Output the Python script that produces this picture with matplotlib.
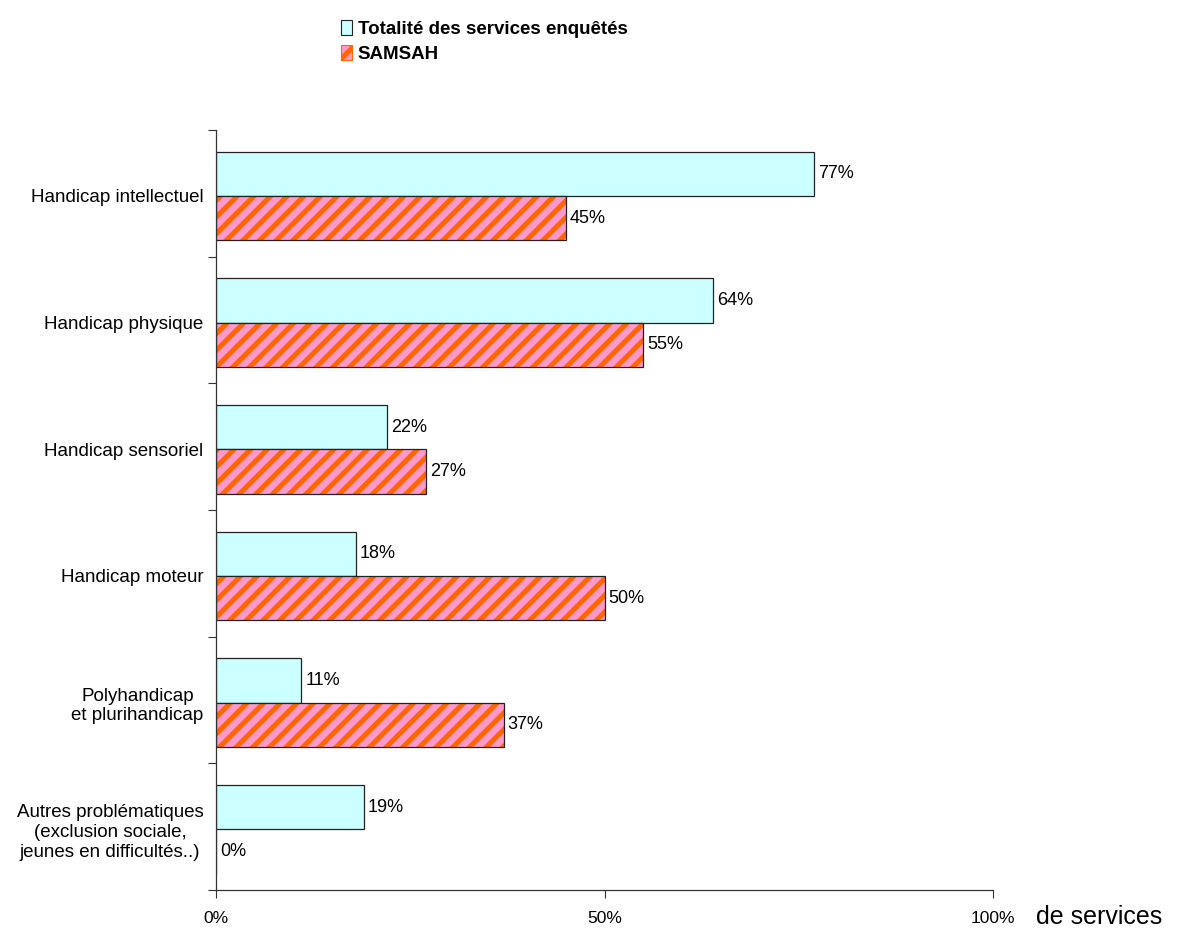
import numpy as np
import matplotlib
matplotlib.use("Agg")
import matplotlib.pyplot as plt
from matplotlib.patches import Patch

plt.rcParams['font.family'] = ['Liberation Sans', 'DejaVu Sans']
plt.rcParams['hatch.linewidth'] = 3.6

categories = ["Handicap intellectuel", "Handicap physique", "Handicap sensoriel",
              "Handicap moteur", "Polyhandicap\net plurihandicap",
              "Autres problématiques\n(exclusion sociale,\njeunes en difficultés..)"]
totalite = [77, 64, 22, 18, 11, 19]
samsah = [45, 55, 27, 50, 37, 0]
series_names = ["Totalité des services enquêtés", "SAMSAH"]
xticks = [0, 50, 100]
xtick_labels = ["0%", "50%", "100%"]

cyan = "#CCFFFF"
pink = "#FF99CC"
orange = "#FF6600"

fig = plt.figure(figsize=(11.83, 9.42), dpi=100)
ax = fig.add_axes([0.1826, 0.0552, 0.6568, 0.8068])

n = len(categories)
centers = n - np.arange(n) - 0.52
h = 0.35

ax.barh(centers + h / 2, totalite, height=h, color=cyan, edgecolor="#222222", linewidth=0.9)
# hatched bars: stripes first, then the black outline on top
ax.barh(centers - h / 2, samsah, height=h, color=pink, edgecolor=orange, linewidth=0,
        hatch="//")
ax.barh(centers - h / 2, samsah, height=h, color="none", edgecolor="#222222", linewidth=0.9)

for c, v in zip(centers, totalite):
    ax.text(v + 0.5, c + h / 2, f"{v}%", va="center", ha="left", fontsize=13)
for c, v in zip(centers, samsah):
    ax.text(v + 0.5, c - h / 2, f"{v}%", va="center", ha="left", fontsize=13)

ax.set_xlim(0, 100)
ax.set_ylim(0, n)
ax.set_xticks(xticks)
ax.set_xticklabels(xtick_labels, fontsize=12.5)
ax.set_yticks(np.arange(n + 1))
ax.set_yticklabels([])
ax.set_yticks(centers, minor=True)
ax.set_yticklabels(categories, minor=True, fontsize=13.5, multialignment="center")
ax.tick_params(axis="y", which="minor", length=0, pad=9)
ax.tick_params(axis="y", which="major", direction="out", length=6, width=0.8, color="#333333")
ax.tick_params(axis="x", direction="out", length=6, width=0.8, color="#333333", pad=9)

for s in ["top", "right"]:
    ax.spines[s].set_visible(False)
for s in ["left", "bottom"]:
    ax.spines[s].set_color("#333333")
    ax.spines[s].set_linewidth(0.9)

ax.text(1.055, -0.02, "de services", transform=ax.transAxes, fontsize=18,
        ha="left", va="top")

handles = [Patch(facecolor=cyan, edgecolor="#222222", linewidth=0.8),
           Patch(facecolor=pink, edgecolor=orange, hatch="//", linewidth=0.8)]
leg = fig.legend(handles, series_names, loc="upper left", bbox_to_anchor=(0.274, 0.997),
                 frameon=False, handlelength=0.6, handleheight=0.9, handletextpad=0.3,
                 labelspacing=0.35, prop={"weight": "bold", "size": 13.5})

fig.savefig("out.png", dpi=100)
